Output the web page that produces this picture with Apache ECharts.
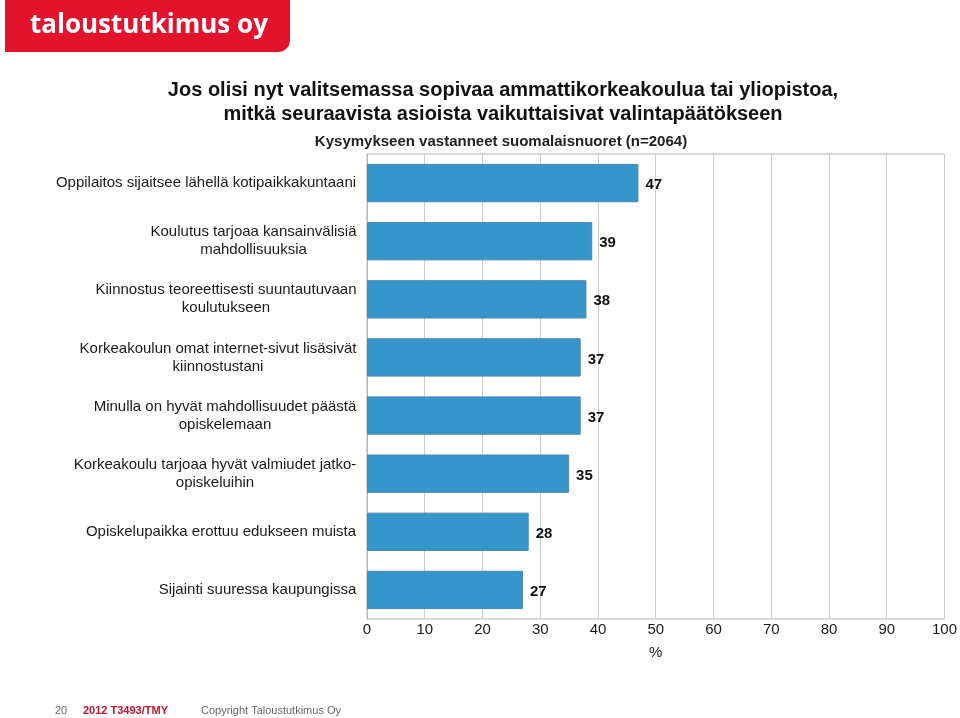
<!DOCTYPE html>
<html>
<head>
<meta charset="utf-8">
<script src="https://cdn.jsdelivr.net/npm/echarts@6/dist/echarts.min.js"></script>
<style>html,body{margin:0;padding:0;background:#fff;}#main{width:960px;height:718px;}</style>
</head>
<body>
<div id="main"></div>
<script>
var categories = [
  "Oppilaitos sijaitsee lähellä kotipaikkakuntaani",
  "Koulutus tarjoaa kansainvälisiä\nmahdollisuuksia",
  "Kiinnostus teoreettisesti suuntautuvaan\nkoulutukseen",
  "Korkeakoulun omat internet-sivut lisäsivät\nkiinnostustani",
  "Minulla on hyvät mahdollisuudet päästä\nopiskelemaan",
  "Korkeakoulu tarjoaa hyvät valmiudet jatko-\nopiskeluihin",
  "Opiskelupaikka erottuu edukseen muista",
  "Sijainti suuressa kaupungissa"
];
var values = [47, 39, 38, 37, 37, 35, 28, 27];
var xTicks = [0, 10, 20, 30, 40, 50, 60, 70, 80, 90, 100];
var titleLines = [
  "Jos olisi nyt valitsemassa sopivaa ammattikorkeakoulua tai yliopistoa,",
  "mitkä seuraavista asioista vaikuttaisivat valintapäätökseen"
];
var subtitle = "Kysymykseen vastanneet suomalaisnuoret (n=2064)";
var footerPage = "20";
var footerCode = "2012 T3493/TMY";
var footerCopy = "Copyright Taloustutkimus Oy";
var logoText = "taloustutkimus oy";

var FONT = "Liberation Sans, Arial, sans-serif";
var labelFontSize = 15;
var cv = document.createElement('canvas').getContext('2d');
cv.font = labelFontSize + 'px "Liberation Sans", Arial, sans-serif';
var rich = {};
categories.forEach(function (c, i) {
  var lines = c.split('\n');
  var w = 0;
  lines.forEach(function (l) { w = Math.max(w, cv.measureText(l).width); });
  rich['c' + i] = { width: Math.ceil(w) + 1, align: 'center', fontSize: labelFontSize, fontFamily: FONT, color: '#1a1a1a', lineHeight: 18 };
});

var chart = echarts.init(document.getElementById('main'), null, { renderer: 'canvas' });
chart.setOption({
  animation: false,
  backgroundColor: '#fff',
  grid: { left: 367, right: 14, top: 154, bottom: 99, show: true, borderColor: '#b5b5b5', borderWidth: 1, containLabel: false },
  xAxis: {
    type: 'value', min: 0, max: 100, interval: 10,
    name: '%', nameLocation: 'middle', nameGap: 26,
    nameTextStyle: { fontSize: 15, fontFamily: FONT, color: '#1a1a1a' },
    axisLine: { show: false }, axisTick: { show: false },
    axisLabel: { fontSize: 15, fontFamily: FONT, color: '#1a1a1a', margin: 3,
      formatter: function (v) { return xTicks.indexOf(v) >= 0 ? String(v) : ''; } },
    splitLine: { show: true, lineStyle: { color: '#cccccc', width: 1 } }
  },
  yAxis: {
    type: 'category', inverse: true, data: categories,
    axisLine: { show: true, lineStyle: { color: '#b5b5b5' } },
    axisTick: { show: false },
    axisLabel: {
      margin: 10, align: 'right', fontSize: labelFontSize, fontFamily: FONT, color: '#1a1a1a',
      rich: rich,
      formatter: function (v, i) {
        return v.split('\n').map(function (l) { return '{c' + i + '|' + l + '}'; }).join('\n');
      }
    }
  },
  series: [{
    type: 'bar', data: values, barCategoryGap: '34%',
    itemStyle: { color: '#3596cb', borderColor: '#4f86ad', borderWidth: 1 },
    label: { show: true, position: 'right', distance: 7, fontSize: 15, fontWeight: 'bold', fontFamily: FONT, color: '#111', offset: [0, 2] }
  }],
  graphic: [
    { type: 'rect', shape: { x: 5, y: 0, width: 285, height: 52, r: [0, 0, 12, 0] }, style: { fill: '#e3122d' } },
    { type: 'text', x: 30, y: 26, style: { text: logoText, fill: '#fff', font: 'bold 26px "Open Sans", "DejaVu Sans", sans-serif', textVerticalAlign: 'middle' } },
    { type: 'text', x: 503, y: 90, style: { text: titleLines[0], fill: '#111', font: 'bold 20px "Liberation Sans", Arial, sans-serif', textAlign: 'center', textVerticalAlign: 'middle' } },
    { type: 'text', x: 503, y: 114, style: { text: titleLines[1], fill: '#111', font: 'bold 20px "Liberation Sans", Arial, sans-serif', textAlign: 'center', textVerticalAlign: 'middle' } },
    { type: 'text', x: 501, y: 142, style: { text: subtitle, fill: '#222', font: 'bold 15px "Liberation Sans", Arial, sans-serif', textAlign: 'center', textVerticalAlign: 'middle' } },
    { type: 'text', x: 55, y: 711, style: { text: footerPage, fill: '#666', font: '11px "Liberation Sans", Arial, sans-serif', textVerticalAlign: 'middle' } },
    { type: 'text', x: 83, y: 711, style: { text: footerCode, fill: '#c0152f', font: 'bold 11px "Liberation Sans", Arial, sans-serif', textVerticalAlign: 'middle' } },
    { type: 'text', x: 201, y: 711, style: { text: footerCopy, fill: '#666', font: '11px "Liberation Sans", Arial, sans-serif', textVerticalAlign: 'middle' } }
  ]
});
</script>
</body>
</html>
